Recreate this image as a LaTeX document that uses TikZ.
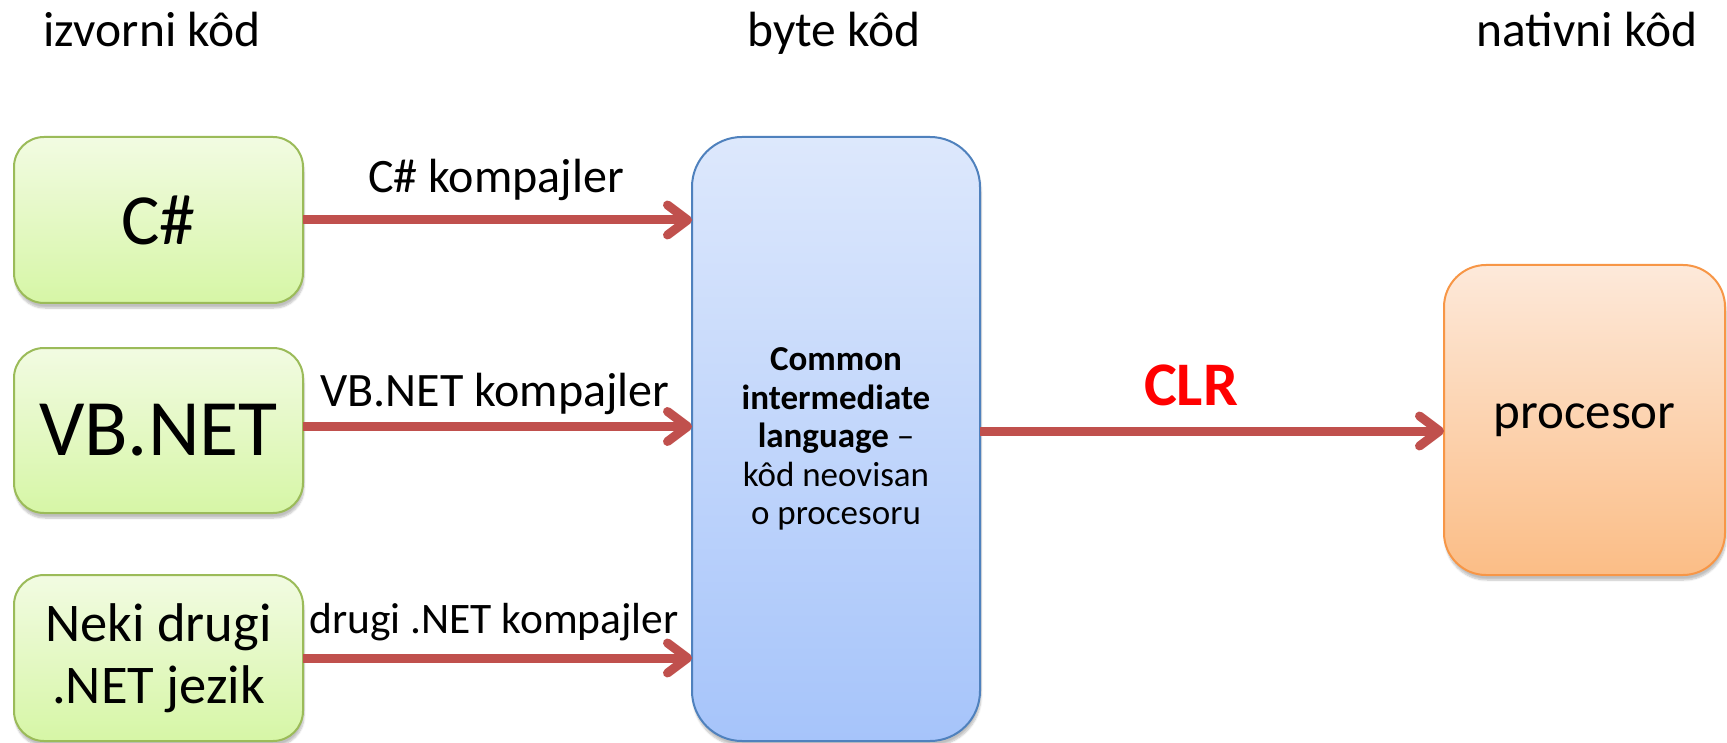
\documentclass[tikz,border=0pt]{standalone}
\usepackage{fontspec}
\setmainfont{Carlito}
\usetikzlibrary{arrows.meta,shadows.blur}
\definecolor{gborder}{HTML}{9BBB59}
\definecolor{gtop}{HTML}{F2FBE2}
\definecolor{gbot}{HTML}{D6F6A6}
\definecolor{bborder}{HTML}{4F81BD}
\definecolor{btop}{HTML}{DDE8FC}
\definecolor{bbot}{HTML}{A6C4FA}
\definecolor{oborder}{HTML}{F79646}
\definecolor{otop}{HTML}{FDE9DA}
\definecolor{obot}{HTML}{FBBD86}
\definecolor{arrred}{HTML}{C0504D}
\definecolor{clrred}{HTML}{FF0000}
\tikzset{
  box/.style={draw, line width=2pt, rounded corners=30pt, outer sep=0pt, inner sep=0pt,
    align=center, blur shadow={shadow xshift=1pt, shadow yshift=-5pt, shadow opacity=25, shadow blur steps=6}},
  greenbox/.style={box, draw=gborder, top color=gtop, bottom color=gbot,
    minimum width=289pt, minimum height=166pt},
  arr/.style={draw=arrred, line width=9pt,
    -{Straight Barb[length=20pt, width=30pt, line cap=round, line join=round]}},
  hdr/.style={font=\fontsize{49.5}{58}\selectfont, anchor=base},
  lbl/.style={font=\fontsize{48}{56}\selectfont, anchor=base},
}
\begin{document}
\begin{tikzpicture}[x=1pt, y=-1pt]
\useasboundingbox (0,0) rectangle (1727,743);
% headers
\node[hdr] (h1) at (152,47) {izvorni kôd};
\node[hdr] (h2) at (834,47) {byte kôd};
\node[hdr] (h3) at (1587,47) {nativni kôd};
% source boxes
\node[greenbox, font=\fontsize{72}{80}\selectfont] (cs) at (158.5,220) {C\#};
\node[greenbox, font=\fontsize{80}{86}\selectfont, minimum height=165pt] (vb) at (158.5,430.5) {VB.NET};
\node[greenbox, font=\fontsize{54.5}{62}\selectfont] (nd) at (158.5,658) {Neki drugi\\.NET jezik};
% CIL box
\node[box, rounded corners=50pt, draw=bborder, top color=btop, bottom color=bbot,
  minimum width=288pt, minimum height=604pt, font=\fontsize{35}{38.5}\selectfont] (cil) at (836,439)
  {\textbf{Common}\\\textbf{intermediate}\\\textbf{language} –\\kôd neovisan\\o procesoru};
% processor box
\node[box, rounded corners=42pt, draw=oborder, top color=otop, bottom color=obot,
  minimum width=281pt, minimum height=310pt, font=\fontsize{51}{58}\selectfont] (proc) at (1584.5,420) {procesor};
% arrows
\draw[arr] (cs.east) -- (cs.east -| cil.west);
\draw[arr] ([yshift=4pt]vb.east) -- ([yshift=4pt]vb.east -| cil.west);
\draw[arr] (nd.east) -- (nd.east -| cil.west);
\draw[arr] ([yshift=8pt]cil.east) -- ([yshift=-11pt]proc.west);
% labels
\node[lbl] (l1) at (496,193) {C\# kompajler};
\node[lbl] (l2) at (495,406) {VB.NET kompajler};
\node[lbl, font=\fontsize{43.5}{50}\selectfont] (l3) at (494,633) {drugi .NET kompajler};
\node[anchor=base, text=clrred, font=\bfseries\fontsize{62}{70}\selectfont] (clr) at (1191,405) {CLR};
\end{tikzpicture}
\end{document}
